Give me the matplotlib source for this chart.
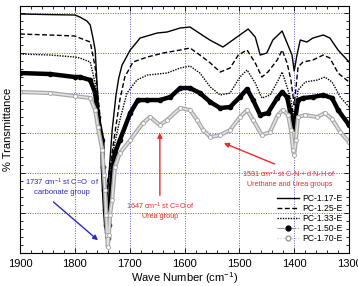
import matplotlib
matplotlib.use("Agg")
import matplotlib.pyplot as plt
from matplotlib.lines import Line2D
from matplotlib.ticker import MultipleLocator, NullFormatter

plt.rcParams['font.family'] = ['Liberation Sans', 'DejaVu Sans']
plt.rcParams['mathtext.fontset'] = 'custom'
plt.rcParams['mathtext.rm'] = 'Liberation Sans'
plt.rcParams['mathtext.it'] = 'Liberation Sans:italic'

# Data (wavenumber in cm-1 / relative transmittance)
wn_117 = [1900, 1845, 1800, 1791, 1778, 1772, 1767, 1763, 1758, 1750, 1747, 1743,
          1740, 1736, 1732, 1730, 1725, 1720, 1714, 1699, 1681, 1650, 1632, 1608,
          1590, 1554, 1530, 1512, 1484, 1471, 1462, 1450, 1439, 1422, 1413, 1404,
          1400, 1395, 1389, 1377, 1366, 1347, 1335, 1320, 1300]
t_117 = [59.75, 59.6, 59.5, 59.0, 58.0, 57.0, 53.75, 50.75, 38.25, 25.75, 17.0, 12.0,
         15.75, 23.25, 30.75, 33.25, 39.5, 43.75, 47.0, 50.75, 53.75, 55.0, 55.25, 56.25,
         56.5, 53.25, 51.5, 53.25, 56.0, 54.0, 49.5, 50.0, 53.25, 55.5, 52.5, 49.5,
         45.5, 49.5, 53.25, 52.75, 53.75, 54.5, 53.75, 50.75, 47.75]

wn_125 = [1900, 1845, 1800, 1791, 1772, 1763, 1754, 1749, 1743, 1736, 1727, 1718,
          1709, 1694, 1668, 1639, 1608, 1590, 1572, 1553, 1535, 1517, 1502, 1486,
          1471, 1459, 1448, 1431, 1422, 1413, 1406, 1400, 1393, 1384, 1366, 1347,
          1335, 1320, 1300]
t_125 = [54.75, 54.5, 54.25, 53.75, 52.75, 46.5, 34.0, 23.25, 15.75, 21.5, 30.0, 38.25,
         44.0, 47.75, 49.0, 50.0, 50.75, 51.25, 49.5, 47.5, 45.25, 46.25, 49.5, 50.75,
         47.5, 44.0, 45.25, 48.25, 50.75, 47.5, 43.25, 37.0, 46.5, 47.75, 48.25, 49.5,
         48.75, 45.0, 42.75]

wn_133 = [1900, 1845, 1800, 1791, 1772, 1763, 1754, 1747, 1741, 1736, 1730, 1718,
          1705, 1687, 1668, 1632, 1608, 1590, 1572, 1553, 1535, 1517, 1499, 1486,
          1471, 1459, 1444, 1429, 1422, 1413, 1406, 1400, 1393, 1380, 1358, 1344,
          1331, 1316, 1300]
t_133 = [49.75, 49.5, 49.0, 48.75, 47.75, 42.5, 30.0, 19.5, 15.75, 20.75, 25.75, 33.25,
         40.0, 43.25, 44.5, 45.0, 46.25, 46.75, 45.0, 41.5, 39.5, 40.0, 44.0, 45.75,
         42.5, 38.75, 39.5, 43.25, 45.25, 41.5, 38.25, 34.0, 40.75, 42.75, 43.25, 44.0,
         42.75, 39.0, 36.5]

wn_150 = [1900, 1845, 1800, 1791, 1772, 1763, 1758, 1750, 1749, 1747, 1745, 1743,
          1741, 1740, 1738, 1736, 1732, 1727, 1718, 1699, 1685, 1668, 1645, 1626,
          1608, 1590, 1572, 1553, 1535, 1517, 1499, 1486, 1475, 1462, 1448, 1431,
          1422, 1413, 1408, 1404, 1402, 1398, 1393, 1384, 1366, 1347, 1331, 1320, 1300]
t_150 = [45.0, 44.75, 44.0, 44.0, 43.25, 40.0, 34.0, 28.25, 21.5, 15.75, 10.75, 7.0,
         5.25, 3.75, 7.0, 13.25, 20.0, 25.0, 28.25, 35.0, 38.25, 38.25, 38.25, 39.0,
         41.25, 41.25, 40.0, 37.75, 36.25, 36.5, 39.0, 41.0, 38.25, 34.5, 35.0, 38.75,
         40.25, 39.0, 35.75, 33.25, 31.25, 33.75, 38.25, 38.75, 39.0, 39.5, 38.75, 35.75, 32.0]

wn_170 = [1900, 1845, 1800, 1772, 1763, 1758, 1750, 1747, 1745, 1743, 1741, 1740,
          1738, 1736, 1732, 1727, 1718, 1699, 1676, 1663, 1645, 1632, 1608, 1590,
          1577, 1566, 1553, 1535, 1517, 1499, 1486, 1475, 1459, 1444, 1430, 1421,
          1411, 1406, 1402, 1400, 1397, 1393, 1380, 1358, 1344, 1331, 1316, 1300]
t_170 = [40.25, 40.0, 39.25, 38.75, 35.75, 31.5, 25.75, 19.5, 15.75, 9.5, 4.5, 1.5,
         4.5, 9.5, 13.25, 21.5, 25.0, 28.25, 32.5, 34.0, 32.0, 33.25, 36.25, 35.75,
         33.25, 30.75, 29.0, 29.5, 30.75, 34.0, 35.75, 33.25, 29.5, 30.25, 34.5, 35.75,
         34.5, 30.75, 25.75, 24.5, 28.25, 34.0, 34.5, 34.0, 35.0, 33.5, 30.25, 27.75]

labels = ['PC-1.17-E', 'PC-1.25-E', 'PC-1.33-E', 'PC-1.50-E', 'PC-1.70-E']

GRID_COLOR = '#5b5bd6'
BLUE = '#2a2ac0'
RED = '#ee2a2a'

fig = plt.figure(figsize=(3.58, 2.86), dpi=100)
ax = fig.add_axes([0.056, 0.115, 0.919, 0.864])

# Curves
ax.plot(wn_117, t_117, color='black', linewidth=1.0)
ax.plot(wn_125, t_125, color='black', linewidth=1.0, linestyle=(0, (3.5, 1.8)))
ax.plot(wn_133, t_133, color='black', linewidth=1.0, linestyle=(0, (1, 0.9)))
ax.plot(wn_150, t_150, color='black', linewidth=3.2, marker='o', markersize=3.0,
        markerfacecolor='black', markeredgecolor='black')
ax.plot(wn_170, t_170, color='#a8a8a8', linewidth=3.0)
ax.plot(wn_170, t_170, color='#e2e2e2', linewidth=1.2, marker='o', markersize=2.8,
        markerfacecolor='white', markeredgecolor='#a0a0a0', markeredgewidth=0.6)

# Annotations
ax.annotate('', xy=(1754, 2.75), xytext=(1843, 13.25),
            arrowprops=dict(arrowstyle='-|>', color=BLUE, lw=1.0, mutation_scale=7))
ax.text(1823, 16.6, '1737 cm$^{-1}$ st C=O  of\ncarbonate group', color=BLUE,
        fontsize=5.5, ha='center', va='center', linespacing=1.15)

ax.annotate('', xy=(1645, 30.75), xytext=(1645, 13.75),
            arrowprops=dict(arrowstyle='-|>', color=RED, lw=1.0, mutation_scale=7))
ax.text(1645, 10.6, '1647 cm$^{-1}$ st C=O of\nUrea group', color=RED,
        fontsize=5.2, ha='center', va='center', linespacing=1.15)

ax.annotate('', xy=(1533, 27.75), xytext=(1431, 22.0),
            arrowprops=dict(arrowstyle='-|>', color=RED, lw=1.0, mutation_scale=7))
ax.text(1409, 18.75, '1531 cm$^{-1}$ st C-N + d N-H of\nUrethane and Urea groups', color=RED,
        fontsize=5.2, ha='center', va='center', linespacing=1.15)

# Axes
ax.set_xlim(1900, 1300)
ax.set_ylim(0, 61.75)
ax.xaxis.set_major_locator(MultipleLocator(100))
ax.xaxis.set_minor_locator(MultipleLocator(20))
ax.yaxis.set_major_locator(MultipleLocator(10))
ax.yaxis.set_minor_locator(MultipleLocator(2))
ax.yaxis.set_major_formatter(NullFormatter())
ax.tick_params(which='both', direction='in', top=True, right=True, width=0.6)
ax.tick_params(which='major', length=3.5, labelsize=8, pad=4)
ax.tick_params(which='minor', length=2)
for s in ax.spines.values():
    s.set_linewidth(0.8)
ax.grid(True, which='major', color=GRID_COLOR, linestyle=(0, (1, 1.5)), linewidth=0.7)

ax.set_xlabel('Wave Number (cm$^{-1}$)', fontsize=8, labelpad=1)
ax.set_ylabel('% Transmittance', fontsize=8, labelpad=1)

# Legend
handles = [
    Line2D([], [], color='black', linewidth=1.0),
    Line2D([], [], color='black', linewidth=1.0, linestyle=(0, (3.5, 1.8))),
    Line2D([], [], color='black', linewidth=1.0, linestyle=(0, (1, 0.9))),
    Line2D([], [], color='#9a9a9a', linewidth=0.8, linestyle='-.', marker='o',
           markersize=3.5, markerfacecolor='black', markeredgecolor='black'),
    Line2D([], [], color='#c8c8c8', linewidth=0.8, linestyle=':', marker='o',
           markersize=3.5, markerfacecolor='white', markeredgecolor='#9a9a9a'),
]
ax.legend(handles, labels, loc='lower right', bbox_to_anchor=(0.995, 0.02),
          frameon=False, fontsize=6.2, handlelength=2.6, handletextpad=0.35,
          labelspacing=0.12, numpoints=1, borderaxespad=0.2)

fig.savefig('out.png', dpi=100)
